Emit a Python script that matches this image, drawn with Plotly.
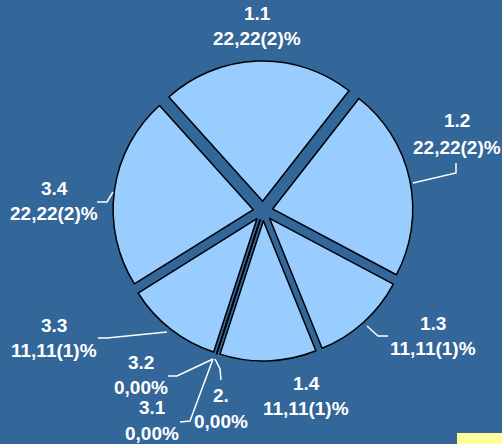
import plotly.graph_objects as go

# ---- data ----
labels = ["1.1", "1.2", "1.3", "1.4", "2.", "3.1", "3.2", "3.3", "3.4"]
counts = [2, 2, 1, 1, 0, 0, 0, 1, 2]

# ---- styling / layout constants ----
W, H = 502, 444
BG = "#336699"
FILL = "#99CCFF"
FONT = dict(family="Liberation Sans, Arial, sans-serif", size=19, color="white")

# label centres in pixels: (x, y_name, y_value)
label_pos = [
    (257, 13, 38),
    (457, 120, 147),
    (433, 323, 348),
    (306, 383, 408),
    (221, 395, 421),
    (152, 407, 433),
    (141, 362, 387),
    (54, 325, 350),
    (54, 188, 214),
]
# leader lines in pixels (polyline points)
leaders = [
    None,
    [(413, 183), (456, 173), (456, 163)],
    [(367, 326), (378, 336), (388, 336)],
    None,
    [(215, 359), (220, 369), (221, 380)],
    [(213, 359), (190, 421), (180, 422)],
    [(213, 359), (177, 376), (168, 376)],
    [(167, 332), (107, 338), (98, 338)],
    [(113, 192), (107, 202), (97, 202)],
]

total = sum(counts)


def fmt(c):
    if c == 0:
        return "0,00%"
    pct = 100.0 * c / total
    return f"{pct:.2f}".replace(".", ",") + f"({c})%"


def px(x):
    return x / W


def py(y):
    return 1 - y / H


fig = go.Figure(
    go.Pie(
        labels=labels,
        values=counts,
        sort=False,
        direction="clockwise",
        rotation=-42,
        pull=[0.07] * len(labels),
        textinfo="none",
        hoverinfo="label+value+percent",
        marker=dict(colors=[FILL] * len(labels), line=dict(color="black", width=1.5)),
        domain=dict(x=[px(263 - 150), px(263 + 150)], y=[py(211 + 150), py(211 - 150)]),
        showlegend=False,
    )
)

annotations = []
for lab, c, (x, yn, yv) in zip(labels, counts, label_pos):
    annotations.append(dict(x=px(x), y=py(yn), xref="paper", yref="paper", text=f"<b>{lab}</b>",
                            showarrow=False, font=FONT, xanchor="center", yanchor="middle"))
    annotations.append(dict(x=px(x), y=py(yv), xref="paper", yref="paper", text=f"<b>{fmt(c)}</b>",
                            showarrow=False, font=FONT, xanchor="center", yanchor="middle"))

shapes = []
for pts in leaders:
    if not pts:
        continue
    path = "M " + " L ".join(f"{px(x)},{py(y)}" for x, y in pts)
    shapes.append(dict(type="path", path=path, xref="paper", yref="paper",
                       line=dict(color="white", width=1.5)))

# small yellow block bottom-right
shapes.append(dict(type="rect", xref="paper", yref="paper", x0=px(457), x1=px(502), y0=py(444), y1=py(433),
                   fillcolor="#FFFF99", line=dict(width=0)))

fig.update_layout(
    width=W, height=H,
    margin=dict(l=0, r=0, t=0, b=0),
    paper_bgcolor=BG, plot_bgcolor=BG,
    annotations=annotations,
    shapes=shapes,
)

fig.write_html(
    "out.html",
    config={"displayModeBar": False},
    post_script="document.body.style.margin='0';document.body.style.overflow='hidden';",
)
